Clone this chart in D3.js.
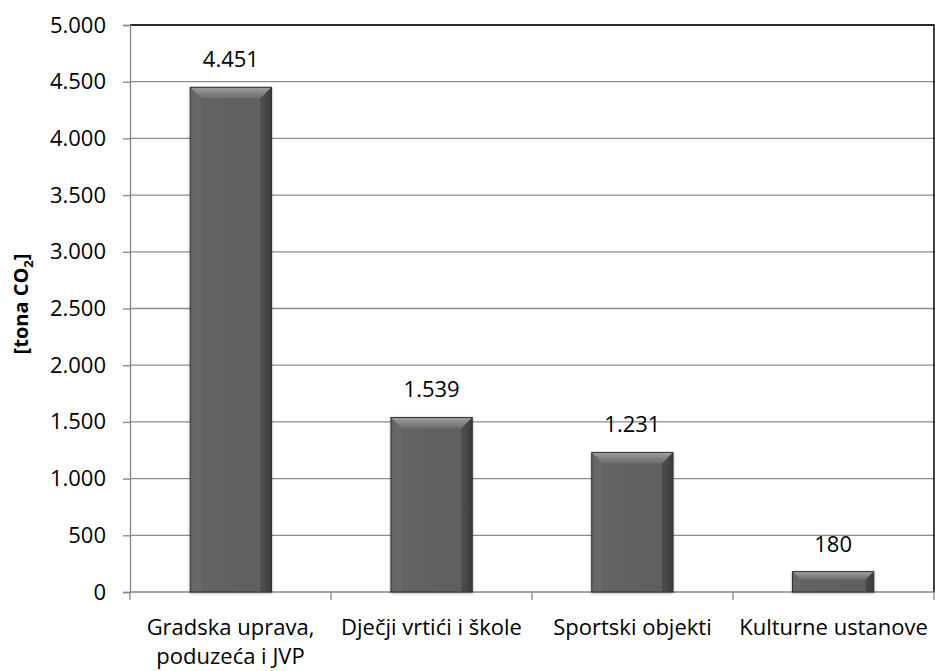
<!DOCTYPE html>
<html>
<head>
<meta charset="utf-8">
<script src="https://cdnjs.cloudflare.com/ajax/libs/d3/7.8.5/d3.min.js"></script>
<style>
  html, body { margin: 0; padding: 0; background: #fff; }
  svg text { font-family: "Open Sans", "Noto Sans", sans-serif; fill: #000; }
</style>
</head>
<body>
<svg id="chart" width="935" height="671"></svg>
<script>
// Emissions by sector of public buildings
const categories = [["Gradska uprava,", "poduzeća i JVP"], ["Dječji vrtići i škole"], ["Sportski objekti"], ["Kulturne ustanove"]];
const values = [4451, 1539, 1231, 180];
const valueLabels = ["4.451", "1.539", "1.231", "180"];
const yTicks = [0, 500, 1000, 1500, 2000, 2500, 3000, 3500, 4000, 4500, 5000];
const yTickLabels = ["0", "500", "1.000", "1.500", "2.000", "2.500", "3.000", "3.500", "4.000", "4.500", "5.000"];

const svg = d3.select("#chart");
const plotLeft = 130, plotRight = 934, plotTop = 25, plotBottom = 592;
const fontSize = 22;

const x = d3.scaleBand().domain(d3.range(categories.length)).range([plotLeft, plotRight]).paddingInner(0.595).paddingOuter(0.3);
const xCat = d3.scaleBand().domain(d3.range(categories.length)).range([plotLeft, plotRight]);
const y = d3.scaleLinear().domain([0, 5000]).range([plotBottom, plotTop]);

// gradients for bevelled bars
const defs = svg.append("defs");
const gTop = defs.append("linearGradient").attr("id", "bevTop").attr("x1", 0).attr("y1", 0).attr("x2", 0).attr("y2", 1);
gTop.append("stop").attr("offset", 0).attr("stop-color", "#a0a0a0");
gTop.append("stop").attr("offset", 1).attr("stop-color", "#6c6c6c");
const gBody = defs.append("linearGradient").attr("id", "body").attr("x1", 0).attr("y1", 0).attr("x2", 1).attr("y2", 0);
gBody.append("stop").attr("offset", 0).attr("stop-color", "#5a5a5a");
gBody.append("stop").attr("offset", 0.08).attr("stop-color", "#636363");
gBody.append("stop").attr("offset", 0.9).attr("stop-color", "#606060");
gBody.append("stop").attr("offset", 1).attr("stop-color", "#3c3c3c");
const shadow = defs.append("filter").attr("id", "shadow").attr("x", "-20%").attr("y", "-20%").attr("width", "140%").attr("height", "140%");
shadow.append("feGaussianBlur").attr("in", "SourceAlpha").attr("stdDeviation", 1.5);
shadow.append("feOffset").attr("dx", 0).attr("dy", 1).attr("result", "b");
shadow.append("feComponentTransfer").append("feFuncA").attr("type", "linear").attr("slope", 0.3);
const merge = shadow.append("feMerge");
merge.append("feMergeNode");
merge.append("feMergeNode").attr("in", "SourceGraphic");

// gridlines
svg.append("g").selectAll("line").data(yTicks.slice(1)).join("line")
  .attr("x1", plotLeft).attr("x2", plotRight)
  .attr("y1", d => y(d)).attr("y2", d => y(d))
  .attr("stroke", "#8c8c8c").attr("stroke-width", 1.3);

// plot border (top and right)
svg.append("path")
  .attr("d", `M${plotLeft},${plotTop}H${plotRight}V${plotBottom}`)
  .attr("fill", "none").attr("stroke", "#000").attr("stroke-width", 1.5);

// y axis
const yAxis = d3.axisLeft(y).tickValues(yTicks).tickFormat((d, i) => yTickLabels[i]).tickSize(7).tickPadding(17);
const yg = svg.append("g").attr("transform", `translate(${plotLeft},0)`).call(yAxis);
yg.select(".domain").attr("stroke", "#868686").attr("stroke-width", 1.3);
yg.selectAll(".tick line").attr("stroke", "#868686").attr("stroke-width", 1.3);
yg.selectAll(".tick text").attr("font-size", fontSize).attr("font-family", "Open Sans").attr("fill", "#000");

// x axis
const xg = svg.append("g").attr("transform", `translate(0,${plotBottom})`);
xg.append("line").attr("x1", plotLeft).attr("x2", plotRight).attr("stroke", "#868686").attr("stroke-width", 1.3);
xg.selectAll("line.tk").data(d3.range(categories.length + 1)).join("line").attr("class", "tk")
  .attr("x1", i => plotLeft + i * xCat.step()).attr("x2", i => plotLeft + i * xCat.step())
  .attr("y1", 0).attr("y2", 8).attr("stroke", "#868686").attr("stroke-width", 1.3);

// bars
const bars = svg.append("g").selectAll("g").data(values).join("g").attr("filter", "url(#shadow)");
bars.each(function(v, i) {
  const g = d3.select(this);
  const x0 = x(i), w = x.bandwidth(), y0 = y(v), h = y(0) - y(v);
  const bev = Math.min(11, h / 2.5);
  g.append("rect").attr("x", x0).attr("y", y0).attr("width", w).attr("height", h).attr("fill", "url(#body)");
  g.append("path")
    .attr("d", `M${x0},${y0}H${x0 + w}L${x0 + w - bev},${y0 + bev}H${x0 + bev}Z`)
    .attr("fill", "url(#bevTop)");
  g.append("path")
    .attr("d", `M${x0},${y0}L${x0 + bev},${y0 + bev}V${y0 + h}H${x0}Z`)
    .attr("fill", "#6e6e6e").attr("opacity", 0.5);
  g.append("path")
    .attr("d", `M${x0 + w},${y0}L${x0 + w - bev},${y0 + bev}V${y0 + h}H${x0 + w}Z`)
    .attr("fill", "#3a3a3a").attr("opacity", 0.55);
  g.append("rect").attr("x", x0).attr("y", y0).attr("width", w).attr("height", h)
    .attr("fill", "none").attr("stroke", "#333").attr("stroke-width", 1);
});

// value labels
svg.append("g").selectAll("text").data(values).join("text")
  .attr("x", (d, i) => x(i) + x.bandwidth() / 2)
  .attr("y", d => y(d) - 20)
  .attr("text-anchor", "middle").attr("font-size", fontSize)
  .text((d, i) => valueLabels[i]);

// category labels (one text element per line)
const labelLines = categories.flatMap((lines, i) => lines.map((s, j) => ({ s, i, j })));
svg.append("g").selectAll("text").data(labelLines).join("text")
  .attr("text-anchor", "middle").attr("font-size", fontSize)
  .attr("x", d => xCat(d.i) + xCat.bandwidth() / 2)
  .attr("y", d => 635 + d.j * 29)
  .text(d => d.s);

// y axis title
const title = svg.append("text")
  .attr("transform", `translate(28,304) rotate(-90)`)
  .attr("text-anchor", "middle").attr("font-size", 20).attr("font-weight", "bold");
title.append("tspan").text("[tona CO");
title.append("tspan").attr("font-size", 13).attr("dy", 5).text("2");
title.append("tspan").attr("dy", -5).text("]");
</script>
</body>
</html>
